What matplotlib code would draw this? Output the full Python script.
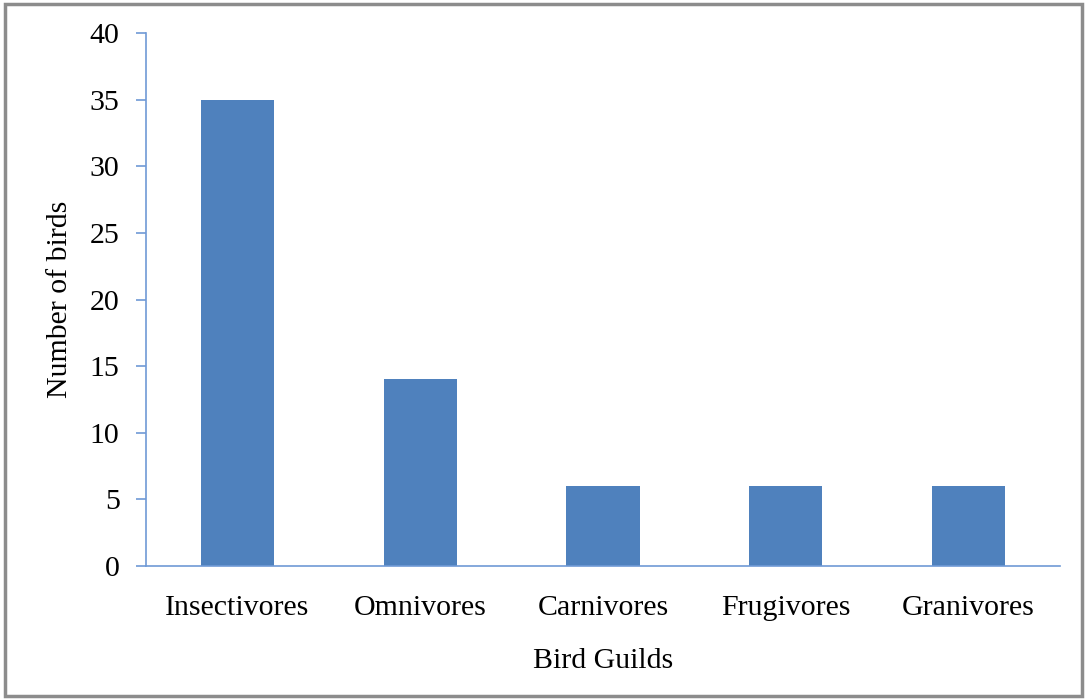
import matplotlib.pyplot as plt
from matplotlib.patches import Rectangle

guilds = ["Insectivores", "Omnivores", "Carnivores", "Frugivores", "Granivores"]
counts = [35, 14, 6, 6, 6]
yticks = [0, 5, 10, 15, 20, 25, 30, 35, 40]

plt.rcParams['font.family'] = ['Liberation Serif', 'DejaVu Serif']

fig = plt.figure(figsize=(10.86, 6.99), dpi=100)
ax = fig.add_axes([146 / 1086, 1 - 566 / 699, 914 / 1086, 533 / 699])

x = range(len(guilds))
ax.bar(x, counts, width=0.4, color='#4f81bd')
ax.set_xlim(-0.5, len(guilds) - 0.5)
ax.set_ylim(0, 40)
ax.set_yticks(yticks)
ax.set_xticks(list(x))
ax.set_xticklabels(guilds)

axis_col = '#6f9ad6'
for s in ['top', 'right']:
    ax.spines[s].set_visible(False)
ax.spines['left'].set_color(axis_col)
ax.spines['bottom'].set_color(axis_col)
ax.spines['left'].set_linewidth(1.2)
ax.spines['bottom'].set_linewidth(1.2)
ax.tick_params(axis='y', direction='out', length=7, width=1.2, color=axis_col,
               labelsize=21.5, pad=12)
ax.tick_params(axis='x', length=0, labelsize=21.5, pad=21)

ax.set_ylabel('Number of birds', fontsize=21.5, labelpad=12)
ax.set_xlabel('Bird Guilds', fontsize=21.5, labelpad=19)

# outer frame around the chart area
fig.patches.append(Rectangle((5 / 1086, 3 / 699), 1077 / 1086, 692 / 699,
                             transform=fig.transFigure, fill=False,
                             edgecolor='#8c8c8c', linewidth=2.5))

fig.savefig('out.png', dpi=100)
